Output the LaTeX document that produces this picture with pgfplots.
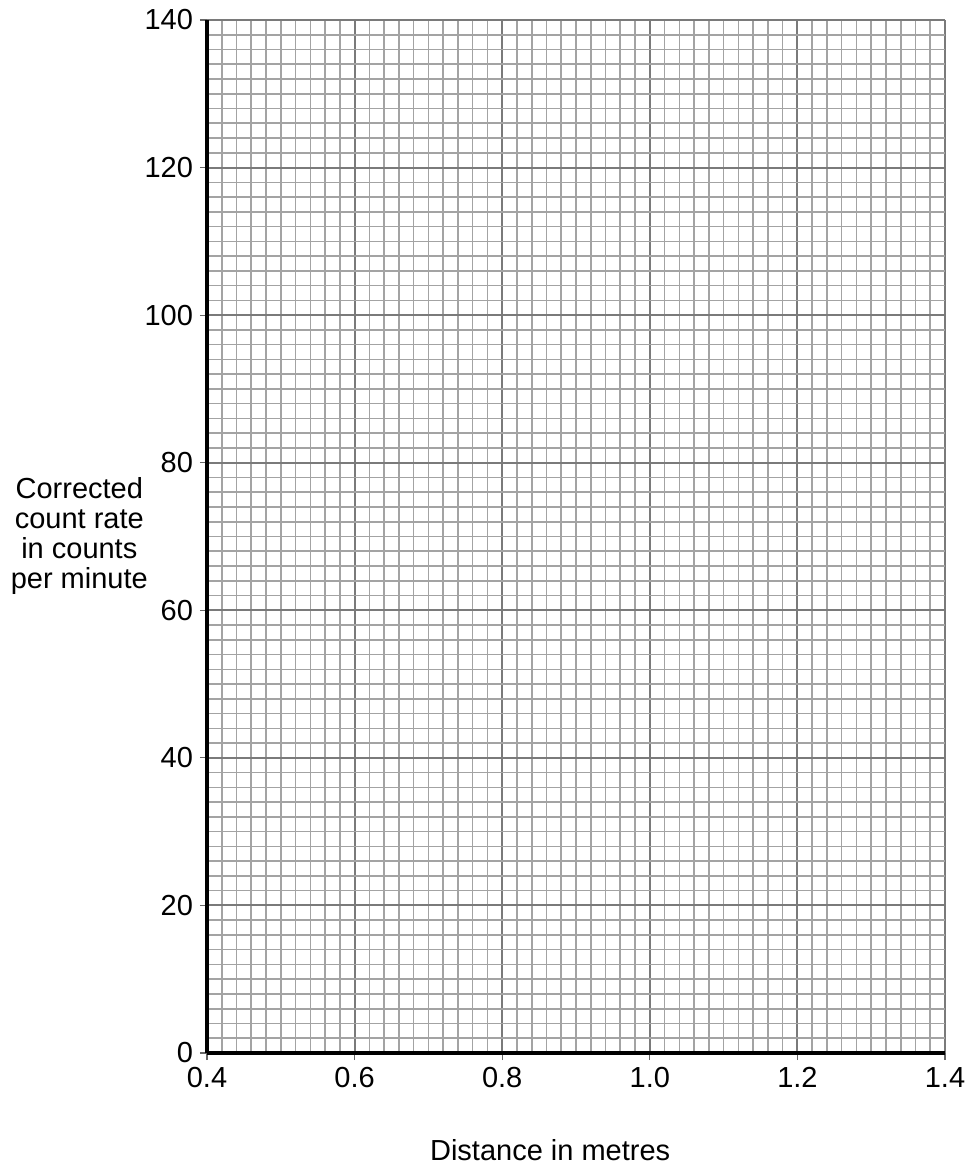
\documentclass[border=0pt]{standalone}
\usepackage{pgfplots}
\pgfplotsset{compat=1.18}
\usepackage{fontspec}
\setmainfont{Liberation Sans}
\begin{document}
\begin{tikzpicture}
% page = 969 x 1165 px at 0.5pt per px
\useasboundingbox (-103.5pt,-56pt) rectangle (381pt,526.5pt);
\begin{axis}[
  at={(0pt,0pt)}, anchor=south west,
  scale only axis, width=369pt, height=516.5pt,
  xmin=0.4, xmax=1.4, ymin=0, ymax=140,
  xtick={0.4,0.6,0.8,1.0,1.2,1.4},
  ytick={0,20,40,60,80,100,120,140},
  minor x tick num=9, minor y tick num=9,
  grid=both,
  major grid style={line width=1pt, color=black!52},
  minor grid style={line width=0.8pt, color=black!36},
  axis x line*=bottom, axis y line*=left,
  axis line style={line width=2pt, black, -},
  tick align=outside,
  major tick length=3.5pt, minor tick length=0pt,
  tick style={black!60, line width=0.6pt},
  /pgf/number format/assume math mode=true,
  ticklabel style={font=\fontsize{14.5}{16}\selectfont},
  xticklabel style={/pgf/number format/.cd, fixed, fixed zerofill, precision=1},
  xlabel={Distance in metres},
  xlabel style={at={(axis description cs:0.465,-0.094)}, anchor=center,
    font=\fontsize{14.5}{16}\selectfont},
  ylabel={Corrected\\count rate\\in counts\\per minute},
  ylabel style={rotate=-90, at={(axis description cs:-0.173,0.5)}, anchor=center,
    align=center, font=\fontsize{14.5}{15}\selectfont},
]
\end{axis}
\end{tikzpicture}
\end{document}
